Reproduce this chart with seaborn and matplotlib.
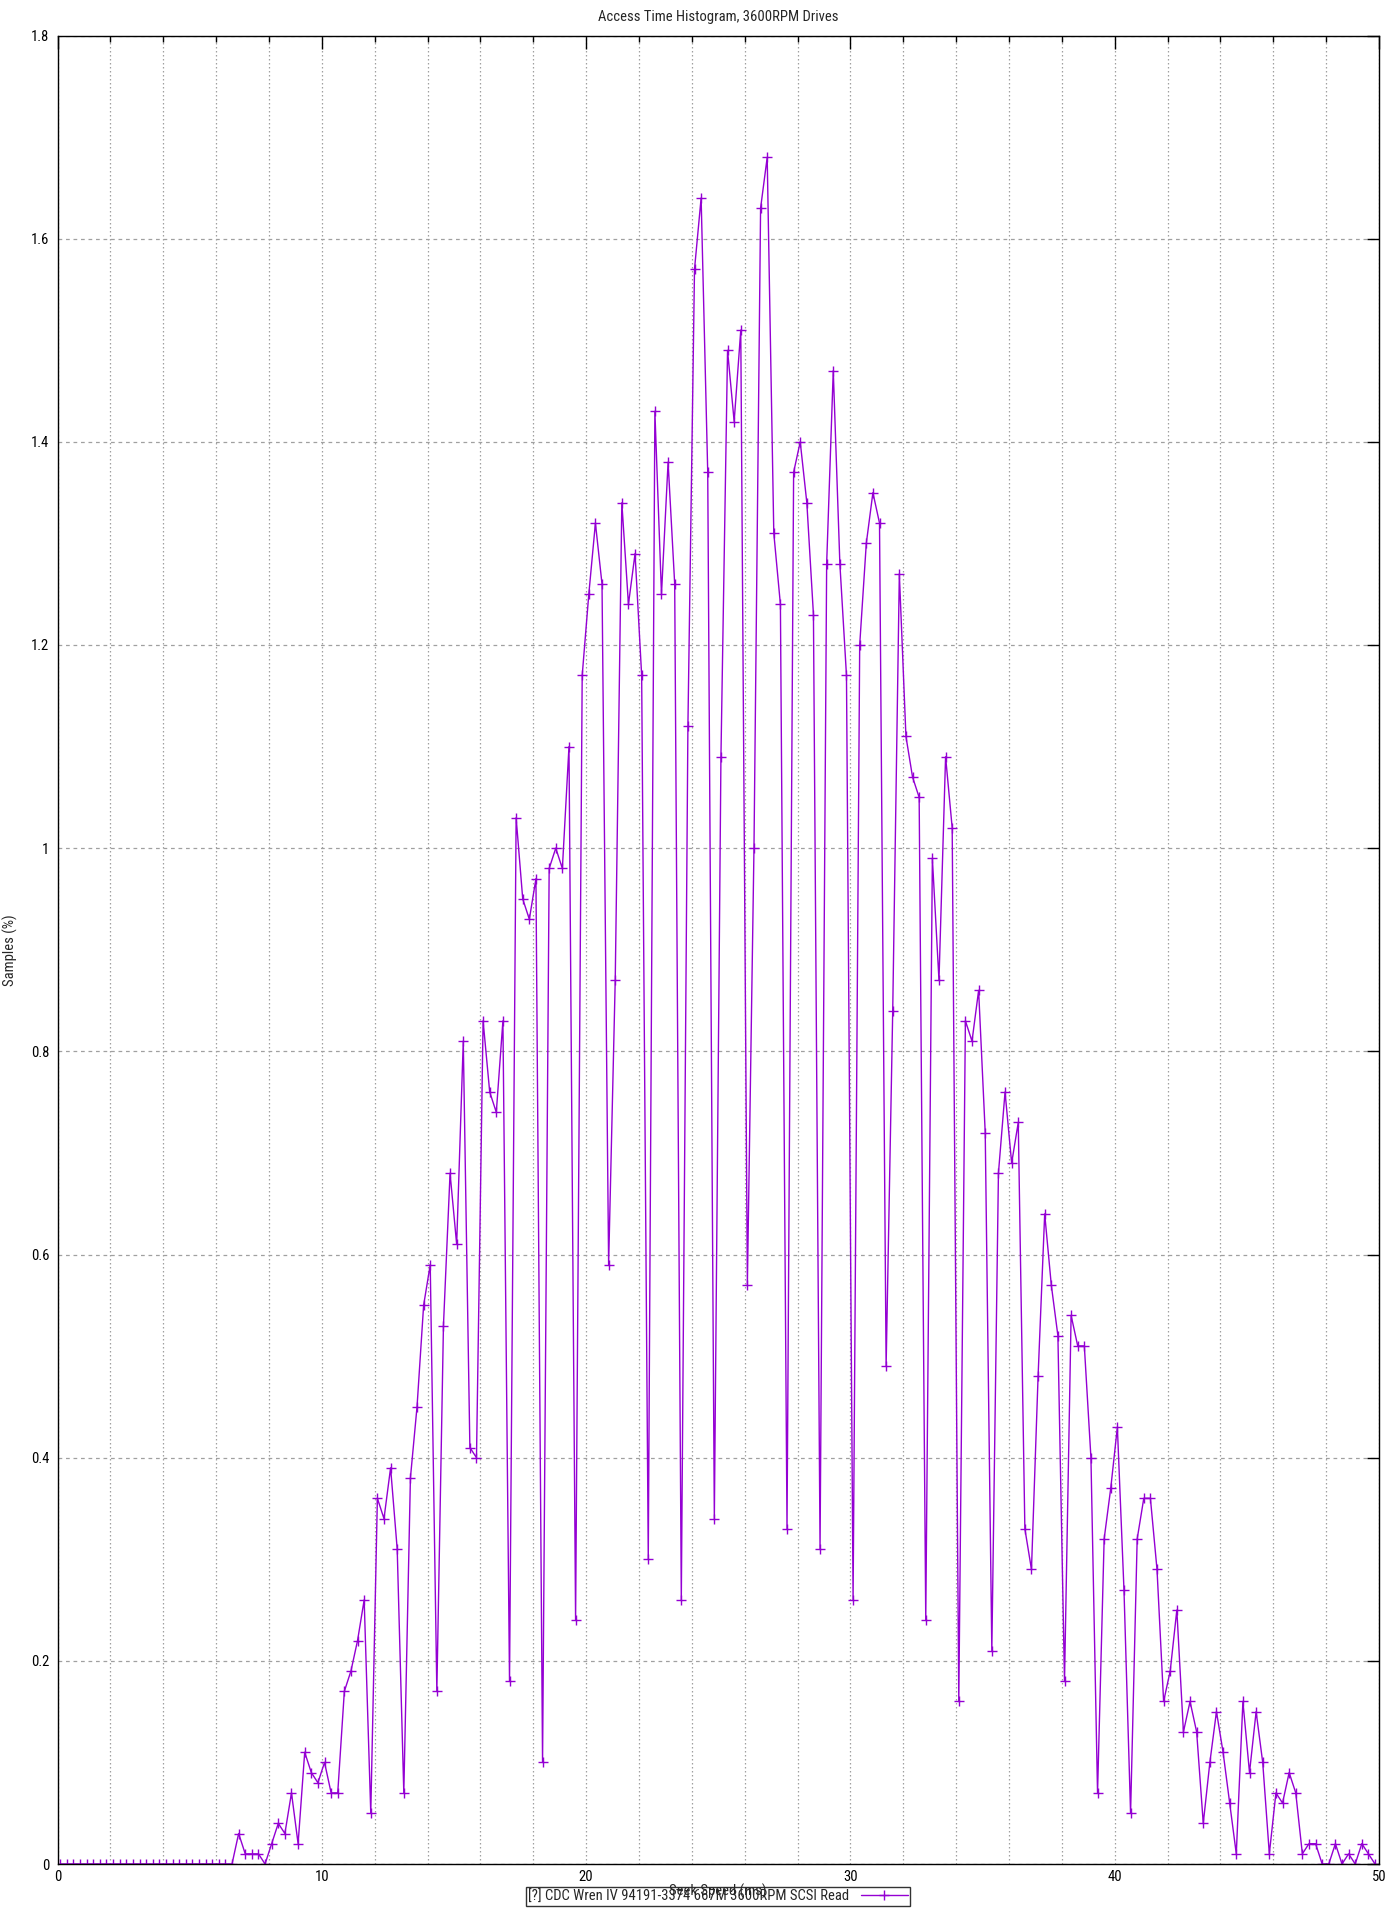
import numpy as np
import matplotlib
matplotlib.use("Agg")
import matplotlib.pyplot as plt
from matplotlib import font_manager
from matplotlib.ticker import MultipleLocator, FuncFormatter
import seaborn as sns

# ---- data ----
TITLE = "Access Time Histogram, 3600RPM Drives"
X_LABEL = "Seek Speed (ms)"
Y_LABEL = "Samples (%)"
SERIES_LABEL = "[?] CDC Wren IV 94191-3374 667M 3600RPM SCSI Read"

BIN_START = 0.1    # first histogram bin (ms)
BIN_WIDTH = 0.25   # histogram bin width (ms)

samples_pct = [
    0, 0, 0, 0, 0, 0, 0, 0, 0, 0,
    0, 0, 0, 0, 0, 0, 0, 0, 0, 0,
    0, 0, 0, 0, 0, 0, 0, 0.03, 0.01, 0.01,
    0.01, 0, 0.02, 0.04, 0.03, 0.07, 0.02, 0.11, 0.09, 0.08,
    0.10, 0.07, 0.07, 0.17, 0.19, 0.22, 0.26, 0.05, 0.36, 0.34,
    0.39, 0.31, 0.07, 0.38, 0.45, 0.55, 0.59, 0.17, 0.53, 0.68,
    0.61, 0.81, 0.41, 0.40, 0.83, 0.76, 0.74, 0.83, 0.18, 1.03,
    0.95, 0.93, 0.97, 0.10, 0.98, 1.00, 0.98, 1.10, 0.24, 1.17,
    1.25, 1.32, 1.26, 0.59, 0.87, 1.34, 1.24, 1.29, 1.17, 0.30,
    1.43, 1.25, 1.38, 1.26, 0.26, 1.12, 1.57, 1.64, 1.37, 0.34,
    1.09, 1.49, 1.42, 1.51, 0.57, 1.00, 1.63, 1.68, 1.31, 1.24,
    0.33, 1.37, 1.40, 1.34, 1.23, 0.31, 1.28, 1.47, 1.28, 1.17,
    0.26, 1.20, 1.30, 1.35, 1.32, 0.49, 0.84, 1.27, 1.11, 1.07,
    1.05, 0.24, 0.99, 0.87, 1.09, 1.02, 0.16, 0.83, 0.81, 0.86,
    0.72, 0.21, 0.68, 0.76, 0.69, 0.73, 0.33, 0.29, 0.48, 0.64,
    0.57, 0.52, 0.18, 0.54, 0.51, 0.51, 0.40, 0.07, 0.32, 0.37,
    0.43, 0.27, 0.05, 0.32, 0.36, 0.36, 0.29, 0.16, 0.19, 0.25,
    0.13, 0.16, 0.13, 0.04, 0.10, 0.15, 0.11, 0.06, 0.01, 0.16,
    0.09, 0.15, 0.10, 0.01, 0.07, 0.06, 0.09, 0.07, 0.01, 0.02,
    0.02, 0, 0, 0.02, 0, 0.01, 0, 0.02, 0.01, 0,
]
seek_ms = BIN_START + BIN_WIDTH * np.arange(len(samples_pct))

X_TICKS = [0, 10, 20, 30, 40, 50]
Y_TICKS = [0, 0.2, 0.4, 0.6, 0.8, 1.0, 1.2, 1.4, 1.6, 1.8]

# ---- style ----
sns.set_style("white")


def pick_font():
    for fam, size in [("Roboto Condensed", 10.5), ("Liberation Sans Narrow", 10.5),
                      ("DejaVu Sans Condensed", 9.5)]:
        try:
            font_manager.findfont(font_manager.FontProperties(family=fam),
                                  fallback_to_default=False)
            return fam, size
        except Exception:
            pass
    return "Lato", 9.6


FONT, FS = pick_font()
plt.rcParams["font.family"] = [FONT, "DejaVu Sans"]
plt.rcParams["font.size"] = FS

W, H = 1400, 1920
fig = plt.figure(figsize=(W / 100, H / 100), dpi=100)
L, R, T, B = 57.6, 1379, 35.5, 1864
ax = fig.add_axes([L / W, 1 - B / H, (R - L) / W, (B - T) / H])

COLOR = "#9400D3"
sns.lineplot(x=seek_ms, y=samples_pct, ax=ax, color=COLOR, marker="+",
             markersize=7, markeredgewidth=1.0, markeredgecolor=COLOR,
             linewidth=1.0, estimator=None, sort=False, label=SERIES_LABEL)

ax.set_xlim(0, 50)
ax.set_ylim(0, 1.8)
ax.set_xticks(X_TICKS)
ax.xaxis.set_minor_locator(MultipleLocator(2))
ax.set_yticks(Y_TICKS)
ax.yaxis.set_major_formatter(FuncFormatter(lambda v, p: f"{v:g}"))
ax.xaxis.set_major_formatter(FuncFormatter(lambda v, p: f"{v:g}"))

ax.grid(which="both", axis="x", color="#a0a0a0", linestyle=(0, (1.2, 2)), linewidth=0.9)
ax.grid(which="major", axis="y", color="#a0a0a0", linestyle=(0, (3, 3)), linewidth=0.9)
ax.set_axisbelow(True)

ax.tick_params(which="both", direction="in", top=True, right=True, colors="black",
               labelsize=FS)
ax.tick_params(which="major", length=9, width=1, pad=4)
ax.tick_params(which="minor", length=4.5, width=1)
ax.tick_params(axis="y", pad=6)
for s in ax.spines.values():
    s.set_color("black")
    s.set_linewidth(1.0)
ax.set_xlabel("")
ax.set_ylabel("")

leg = ax.legend(loc="center", bbox_to_anchor=(718 / W, 1 - 1896.5 / H),
                bbox_transform=fig.transFigure, frameon=True, fancybox=False,
                edgecolor="black", facecolor="none", markerfirst=False,
                handlelength=3.2, borderpad=0.15, handletextpad=0.8,
                borderaxespad=0, fontsize=FS)
leg.get_frame().set_linewidth(1.0)

fig.text(718 / W, 1 - 1891 / H, X_LABEL, ha="center", va="center", fontsize=FS, zorder=10)
fig.text(10 / W, 1 - 950 / H, Y_LABEL, ha="center", va="center", rotation=90, fontsize=FS)
fig.text(718 / W, 1 - 17 / H, TITLE, ha="center", va="center", fontsize=FS)

fig.savefig("out.png", dpi=100)
